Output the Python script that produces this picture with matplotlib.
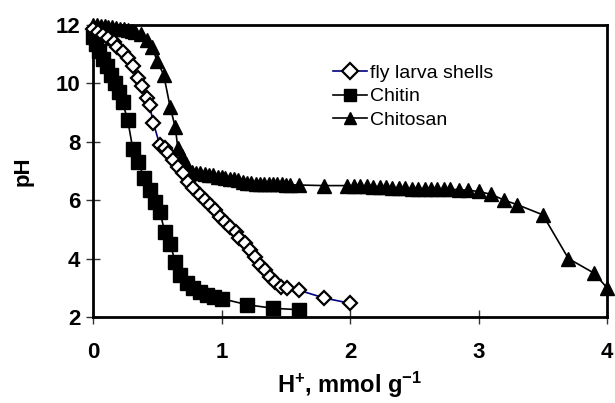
import matplotlib
matplotlib.use("Agg")
import matplotlib.pyplot as plt

# ---- data ----
x_fly = [0, 0.04, 0.08, 0.12, 0.16, 0.19, 0.23, 0.27, 0.31, 0.35, 0.38, 0.42, 0.44, 0.47,
         0.52, 0.56, 0.58, 0.62, 0.66, 0.70, 0.74, 0.78, 0.83, 0.87, 0.91, 0.95, 0.99,
         1.03, 1.07, 1.11, 1.14, 1.18, 1.22, 1.26, 1.30, 1.34, 1.38, 1.42, 1.46, 1.51,
         1.6, 1.8, 2.0]
ph_fly = [11.85, 11.75, 11.65, 11.55, 11.42, 11.25, 11.07, 10.87, 10.6, 10.2, 9.9, 9.5,
          9.26, 8.64, 7.89, 7.8, 7.6, 7.38, 7.14, 6.93, 6.62, 6.42, 6.18, 6.0, 5.84, 5.66,
          5.42, 5.25, 5.08, 4.91, 4.7, 4.53, 4.3, 4.05, 3.78, 3.6, 3.37, 3.2, 3.03, 2.99,
          2.92, 2.65, 2.47]

x_chitin = [0, 0.02, 0.05, 0.08, 0.11, 0.14, 0.17, 0.20, 0.23, 0.27, 0.31, 0.35, 0.40,
            0.44, 0.48, 0.52, 0.56, 0.60, 0.64, 0.68, 0.73, 0.78, 0.83, 0.89, 0.94, 1.0,
            1.2, 1.4, 1.6]
ph_chitin = [11.6, 11.35, 11.1, 10.85, 10.6, 10.3, 10.0, 9.7, 9.35, 8.75, 7.75, 7.3, 6.76,
             6.35, 5.95, 5.6, 4.9, 4.5, 3.9, 3.45, 3.15, 3.0, 2.86, 2.75, 2.68, 2.63,
             2.42, 2.3, 2.25]

x_chitosan = [0, 0.03, 0.06, 0.09, 0.12, 0.15, 0.18, 0.21, 0.24, 0.27, 0.30, 0.33, 0.37,
              0.42, 0.46, 0.50, 0.55, 0.60, 0.64, 0.66, 0.69, 0.72, 0.74,
              0.77, 0.80, 0.83, 0.87, 0.90, 0.93, 0.97, 1.00, 1.03, 1.07, 1.10, 1.13,
              1.17, 1.20, 1.23, 1.27, 1.30, 1.33, 1.37, 1.40, 1.43, 1.47, 1.50, 1.53,
              1.6, 1.8,
              1.98, 2.03, 2.08, 2.13, 2.18, 2.23, 2.28, 2.33, 2.38, 2.43, 2.48, 2.53,
              2.58, 2.63, 2.68, 2.73, 2.78, 2.85, 2.92, 3.0, 3.1, 3.2, 3.3, 3.5, 3.7,
              3.9, 4.0]
ph_chitosan = [12.0, 12.0, 11.98, 11.96, 11.94, 11.92, 11.9, 11.87, 11.85, 11.82, 11.8,
               11.76, 11.7, 11.5, 11.25, 10.75, 10.3, 9.2, 8.5, 7.8, 7.5, 7.25, 7.1,
               6.95, 6.93, 6.92, 6.9, 6.88, 6.86, 6.8, 6.78, 6.76, 6.74, 6.72, 6.68,
               6.64, 6.6, 6.58, 6.57, 6.56, 6.55, 6.55, 6.55, 6.54, 6.54, 6.53, 6.53,
               6.52, 6.5,
               6.5, 6.49, 6.48, 6.47, 6.46, 6.45, 6.44, 6.43, 6.42, 6.41, 6.4, 6.4,
               6.39, 6.39, 6.38, 6.38, 6.37, 6.36, 6.34, 6.3, 6.2, 6.0, 5.85, 5.5, 4.0,
               3.5, 3.0]

xticks = [0, 1, 2, 3, 4]
yticks = [2, 4, 6, 8, 10, 12]

plt.rcParams['font.family'] = ['Liberation Sans', 'DejaVu Sans']
plt.rcParams['mathtext.fontset'] = 'custom'
plt.rcParams['mathtext.rm'] = 'Liberation Sans:bold'
plt.rcParams['mathtext.bf'] = 'Liberation Sans:bold'
plt.rcParams['mathtext.it'] = 'Liberation Sans:bold'

fig = plt.figure(figsize=(6.15, 4.03), dpi=100)
ax = fig.add_axes([93/615, 1-317/403, (607-93)/615, (317-25)/403])

ax.plot(x_fly, ph_fly, color='#000080', lw=1.2, marker='D', markersize=7.5,
        markerfacecolor='white', markeredgecolor='black', markeredgewidth=1.6,
        label='fly larva shells', clip_on=False, zorder=3)
ax.plot(x_chitin, ph_chitin, color='black', lw=1.2, marker='s', markersize=9.5,
        markerfacecolor='black', markeredgecolor='black',
        label='Chitin', clip_on=False, zorder=2)
ax.plot(x_chitosan, ph_chitosan, color='black', lw=1.2, marker='^', markersize=10,
        markerfacecolor='black', markeredgecolor='black',
        label='Chitosan', clip_on=False, zorder=2)

ax.set_xlim(0, 4)
ax.set_ylim(2, 12)
ax.set_xticks(xticks)
ax.set_yticks(yticks)
ax.set_xticklabels([str(v) for v in xticks], fontsize=16, fontweight='bold')
ax.set_yticklabels([str(v) for v in yticks], fontsize=16, fontweight='bold')
ax.tick_params(axis='both', direction='inout', length=10, width=1, color='#333333')
ax.tick_params(axis='x', pad=13)
ax.tick_params(axis='y', pad=4)
for s in ax.spines.values():
    s.set_linewidth(2)

ax.set_xlabel('H$^{+}$, mmol g$^{-1}$', fontsize=17, fontweight='bold', labelpad=5)
ax.set_ylabel('pH', fontsize=16, fontweight='bold', labelpad=16)

leg = ax.legend(loc='upper left', bbox_to_anchor=(0.467, 0.865), frameon=False,
                fontsize=14, handlelength=1.75, handletextpad=0.15, labelspacing=0.3,
                borderpad=0, borderaxespad=0)
for h in leg.legend_handles:
    h.set_markersize(8)

fig.savefig('out.png', dpi=100)
